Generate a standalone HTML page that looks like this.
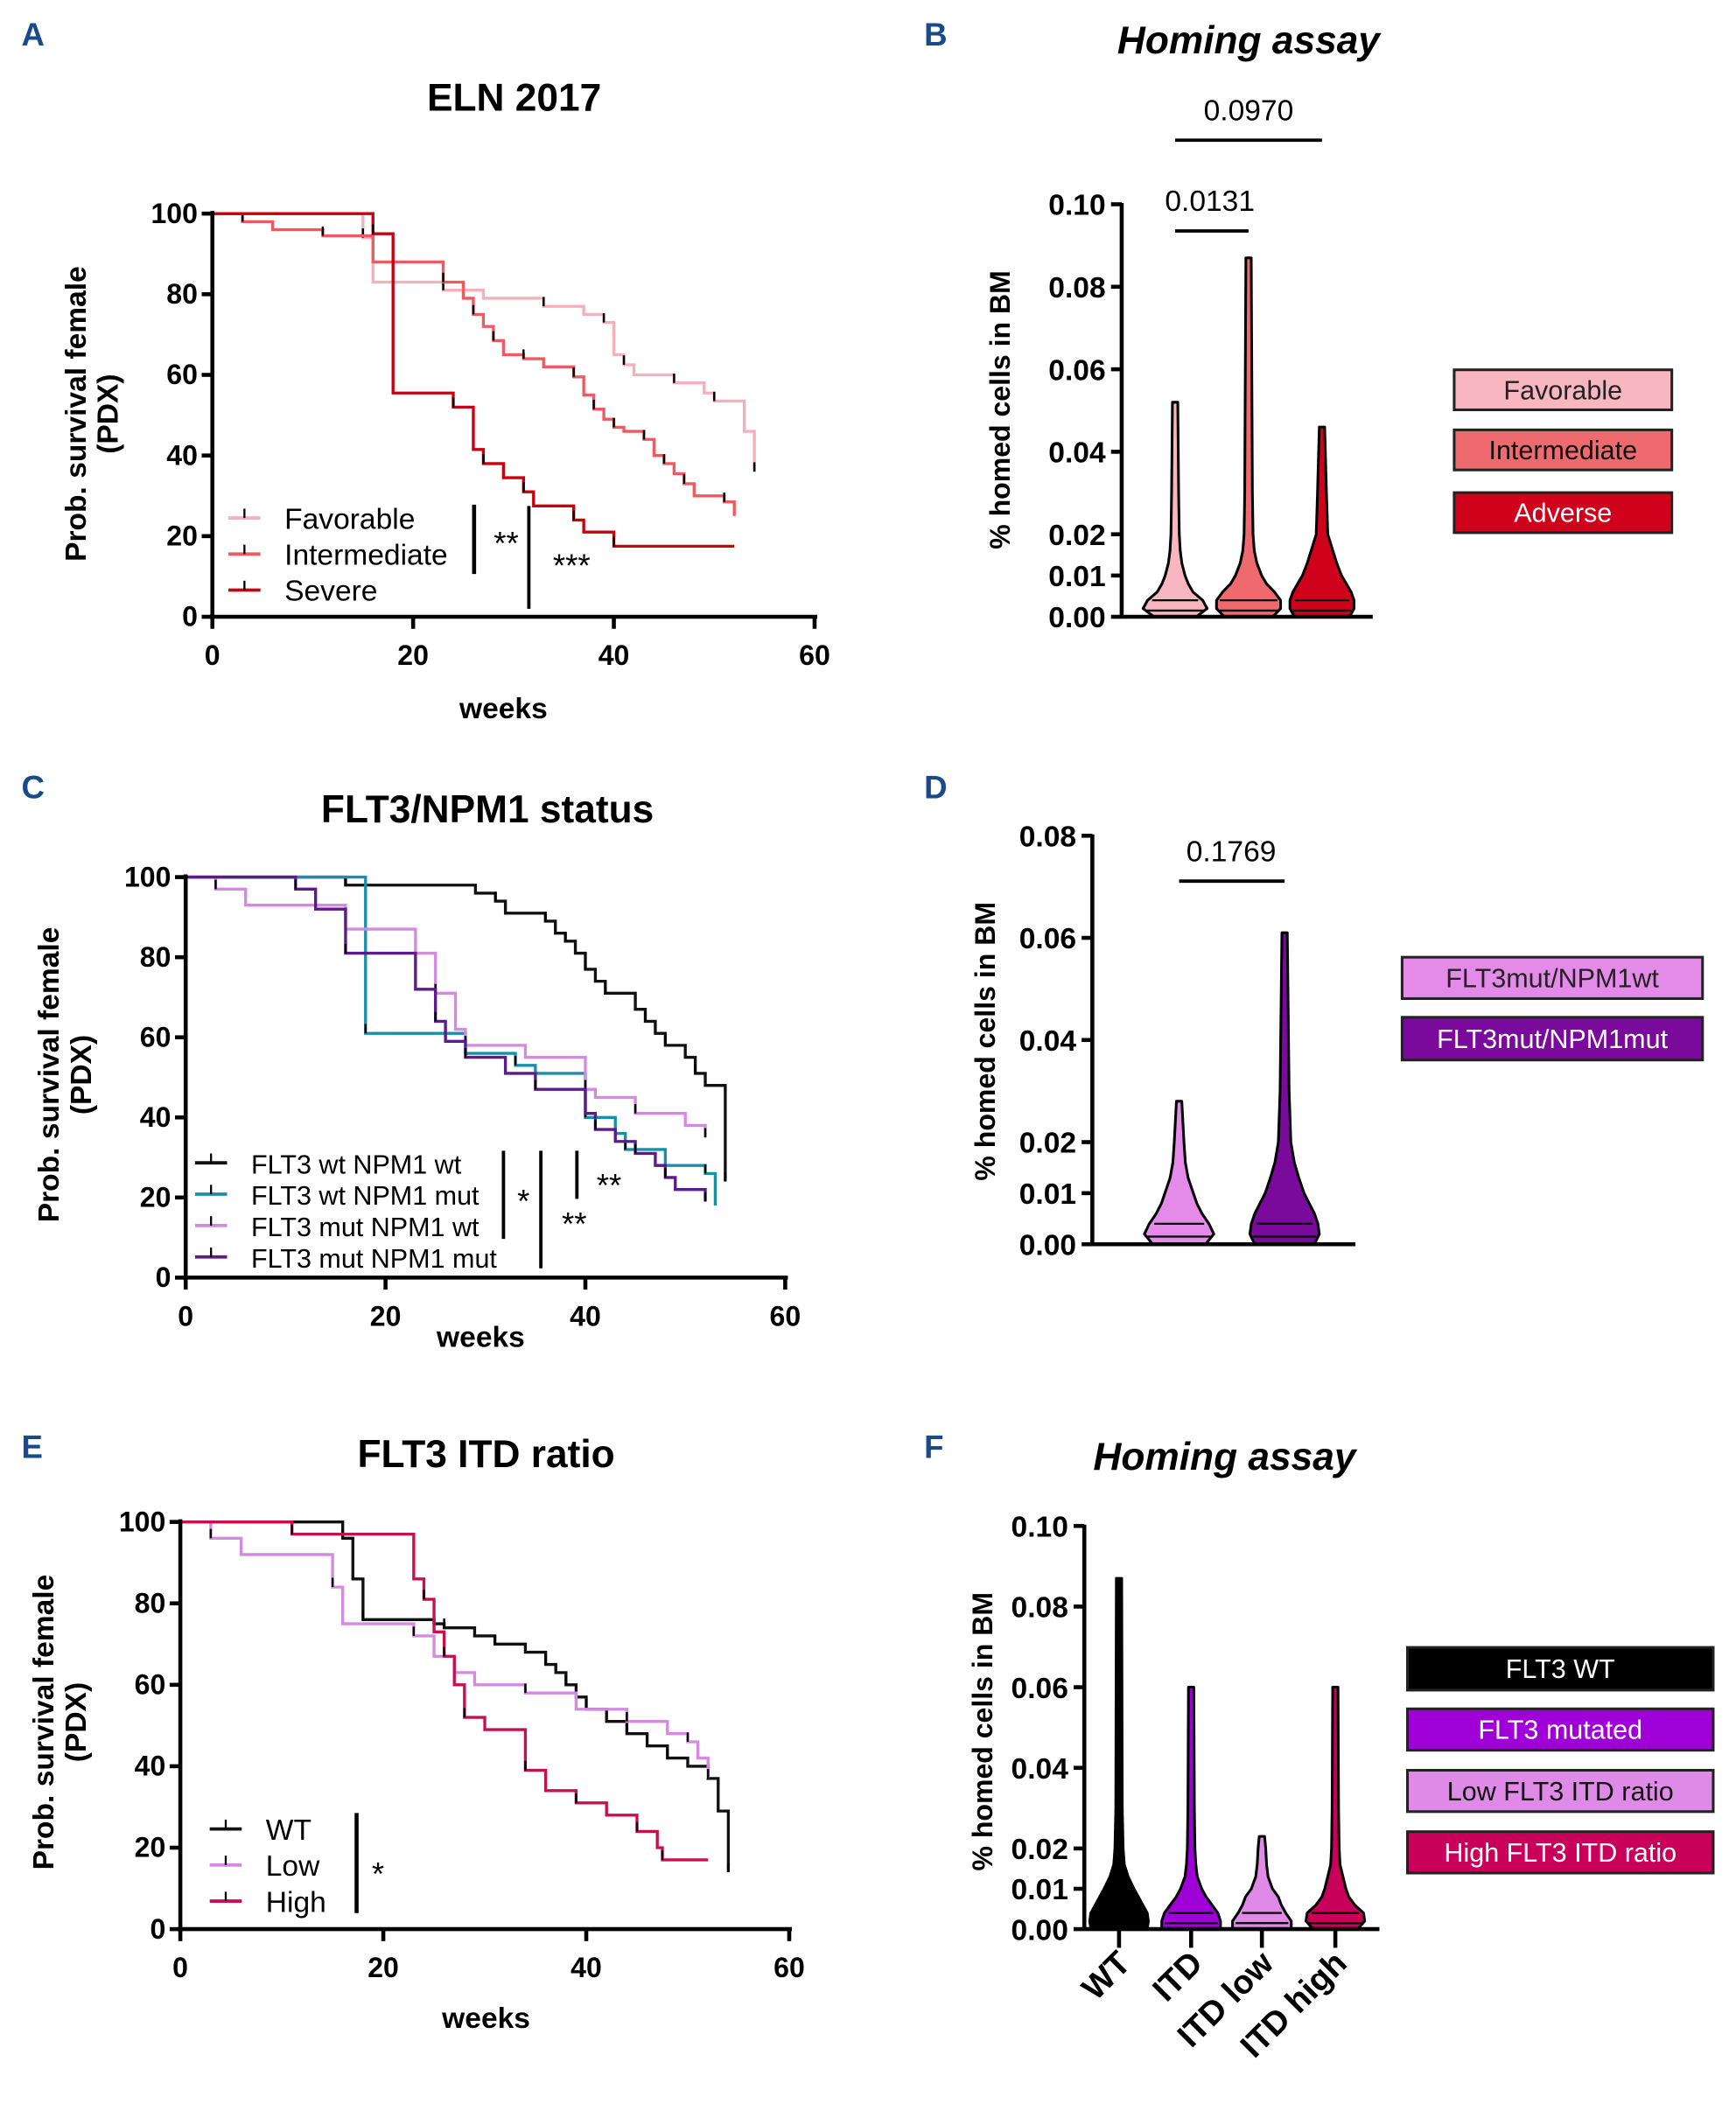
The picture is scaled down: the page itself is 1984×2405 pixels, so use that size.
<!DOCTYPE html>
<html><head><meta charset="utf-8">
<style>
html,body{margin:0;padding:0;background:#fff;}
svg{display:block;font-family:"Liberation Sans",Arial,sans-serif;}
</style></head>
<body>
<svg id="fig" width="1984" height="2405" viewBox="0 0 1300 1576" xmlns="http://www.w3.org/2000/svg">
<g id="root"></g>
</svg>
<script>
// ---------- DATA ----------
const xTicksKM = [0, 20, 40, 60];
const yTicksKM = [0, 20, 40, 60, 80, 100];

// Panel A
const aFavT = [15, 16, 23, 27, 33, 37, 39, 40, 41, 42, 46, 49, 50, 53, 54];
const aFavS = [94, 83, 81, 79, 77, 75, 73, 65, 62.5, 60, 58, 55.5, 53.5, 46, 36];
const aFavEnd = 54;
const aIntT = [3, 6, 11, 16, 23, 25, 26, 27, 28, 29, 31, 33, 36, 37, 38, 39, 40, 41, 43, 44, 45, 46, 47, 48, 51, 52];
const aIntS = [98, 96, 94.5, 88, 83, 79, 75, 72, 68.5, 65, 64, 62, 59.5, 55, 51.5, 49, 47, 46, 44, 40, 38, 35.5, 33, 30, 28.5, 25];
const aIntEnd = 52;
const aSevT = [16, 18, 24, 26, 27, 29, 31, 32, 36, 37, 40];
const aSevS = [95, 55.5, 52, 41.5, 38, 34.5, 31, 27.5, 24, 21, 17.5];
const aSevEnd = 52;

// Panel C
const cWwT = [16, 29, 31, 32, 36, 37, 38, 39, 40, 41, 42, 45, 46, 47, 48, 50, 51, 52, 54];
const cWwS = [98, 96, 94, 91, 89, 86, 84, 81, 77, 74, 71, 67, 64, 61, 58, 55, 51, 48, 24];
const cWmT = [18, 28, 33, 35, 40, 43, 44, 48, 52, 53];
const cWmS = [61, 56, 53, 51, 40, 36, 32, 28, 26, 18];
const cMwT = [3, 6, 16, 23, 25, 27, 28, 34, 40, 41, 45, 50, 52];
const cMwS = [97, 93, 87, 81, 71, 62, 58, 55, 47, 45, 41, 38, 35];
const cMmT = [11, 13, 16, 23, 25, 26, 28, 32, 35, 40, 41, 43, 45, 47, 48, 49, 52];
const cMmS = [97, 92, 81, 72, 64, 59, 55, 51, 47, 41, 37, 34, 31, 28, 25, 22, 19];

// Panel E
const eWtT = [16, 17, 18, 25, 26, 29, 31, 34, 36, 37, 38, 39, 40, 42, 44, 46, 48, 50, 52, 53, 54];
const eWtS = [96, 86, 76, 75, 74, 72, 70, 68, 65, 63, 60, 57, 54, 51, 48, 45, 42, 40, 37, 29, 14];
const eLowT = [3, 6, 15, 16, 23, 25, 27, 29, 34, 39, 44, 48, 50, 51, 52];
const eLowS = [96, 92, 84, 75, 72, 67, 63, 60, 58, 54, 51, 48, 46, 42, 37];
const eHighT = [11, 23, 24, 25, 26, 27, 28, 30, 34, 36, 39, 42, 45, 47, 47.5];
const eHighS = [97, 86, 81, 73, 67, 60, 52, 49, 39, 34, 31, 28, 24, 20, 17];

// Violins: density profile levels (value) and relative widths
const vLevels = [0, 0.002, 0.004, 0.006, 0.008, 0.010, 0.013, 0.016, 0.02, 0.03];
const bFavW = [0.6, 1.0, 0.8, 0.5, 0.35, 0.25, 0.15, 0.1, 0.07, 0.05];
const bIntW = [0.7, 1.0, 1.0, 0.75, 0.5, 0.35, 0.2, 0.12, 0.08, 0.06];
const bAdvW = [0.8, 1.0, 0.95, 0.85, 0.7, 0.55, 0.4, 0.28, 0.12, 0.08];
const bMax = [0.052, 0.087, 0.046];
const bCats = ["Favorable", "Intermediate", "Adverse"];
const bYTicks = [0, 0.01, 0.02, 0.04, 0.06, 0.08, 0.10];

const dMwW = [0.7, 1.0, 0.8, 0.6, 0.45, 0.35, 0.2, 0.12, 0.08, 0.05];
const dMmW = [0.8, 1.0, 0.9, 0.8, 0.65, 0.5, 0.35, 0.22, 0.12, 0.07];
const dMax = [0.028, 0.061];
const dYTicks = [0, 0.01, 0.02, 0.04, 0.06, 0.08];

const fWtW = [0.9, 1.0, 0.9, 0.75, 0.6, 0.45, 0.25, 0.12, 0.08, 0.05];
const fItdW = [1.0, 1.0, 0.85, 0.65, 0.45, 0.3, 0.15, 0.1, 0.07, 0.05];
const fLowW = [1.0, 1.0, 0.75, 0.6, 0.5, 0.3, 0.15, 0.1, 0.07, 0.05];
const fHighW = [0.7, 1.0, 0.9, 0.6, 0.4, 0.3, 0.2, 0.1, 0.07, 0.05];
const fMax = [0.087, 0.060, 0.023, 0.060];
const fCats = ["WT", "ITD", "ITD low", "ITD high"];
const fYTicks = [0, 0.01, 0.02, 0.04, 0.06, 0.08, 0.10];

// ---------- HELPERS ----------
const NS = "http://www.w3.org/2000/svg";
const root = document.getElementById("root");
function mk(tag, attrs, parent, txt) {
  const e = document.createElementNS(NS, tag);
  for (const k in attrs) e.setAttribute(k, attrs[k]);
  if (txt !== undefined) e.textContent = txt;
  (parent || root).appendChild(e);
  return e;
}
function text(x, y, s, size, opts, parent) {
  const o = Object.assign({x: x, y: y, "font-size": size, fill: "#000", "text-anchor": "middle"}, opts || {});
  const t = mk("text", o, parent, s);
  
  
  return t;
}
function lin(d0, d1, r0, r1) { return v => r0 + (v - d0) * (r1 - r0) / (d1 - d0); }

function kmAxes(g, X, Y, x0, x1, y0, y1) {
  mk("line", {x1: x0, y1: y1 - 2, x2: x0, y2: y0 + 2, stroke: "#000", "stroke-width": 3}, g);
  mk("line", {x1: x0 - 2, y1: y0, x2: x1 + 2, y2: y0, stroke: "#000", "stroke-width": 3}, g);
  yTicksKM.forEach(v => {
    mk("line", {x1: x0 - 8, y1: Y(v), x2: x0, y2: Y(v), stroke: "#000", "stroke-width": 3}, g);
    text(x0 - 11, Y(v) + 7, v, 21, {"text-anchor": "end", "font-weight": "bold"}, g);
  });
  xTicksKM.forEach(v => {
    mk("line", {x1: X(v), y1: y0, x2: X(v), y2: y0 + 9, stroke: "#000", "stroke-width": 3}, g);
    text(X(v), y0 + 36, v, 21, {"font-weight": "bold"}, g);
  });
}
function stepPath(g, X, Y, T, S, end, color, name) {
  let d = "M" + X(0) + "," + Y(100);
  for (let i = 0; i < T.length; i++) d += "H" + X(T[i]) + "V" + Y(S[i]);
  d += "H" + X(end);
  const p = mk("path", {d: d, fill: "none", stroke: color, "stroke-width": 2.2}, g);
  
  
  for (let i = 0; i < T.length; i += 2) {
    const c = mk("line", {x1: X(T[i]) , y1: Y(S[i]), x2: X(T[i]), y2: Y(S[i]) - 7, stroke: "#000", "stroke-width": 1.6}, g);
    
    
  }
}
function kmLegend(g, x, y, items, gap, size) {
  items.forEach((it, i) => {
    const yy = y + i * gap;
    mk("line", {x1: x, y1: yy, x2: x + 24, y2: yy, stroke: it[1], "stroke-width": 2.5}, g);
    mk("line", {x1: x + 12, y1: yy, x2: x + 12, y2: yy - 7, stroke: "#000", "stroke-width": 1.5}, g);
    const t = text(x + 42, yy + 8, it[0], size || 22, {"text-anchor": "start"}, g);
    
  });
}
function violin(g, xc, Y, W, max, halfW, fill, name) {
  let right = [];
  for (let i = 0; i < vLevels.length; i++) {
    if (vLevels[i] > max) break;
    right.push([xc + Math.min(W[i] + 0.06, 1) * halfW, Y(vLevels[i])]);
  }
  right.push([xc + 2, Y(max)]);
  let d = "M" + xc + "," + Y(0);
  right.forEach(p => d += "L" + p[0] + "," + p[1]);
  for (let i = right.length - 1; i >= 0; i--) d += "L" + (2 * xc - right[i][0]) + "," + right[i][1];
  d += "Z";
  const p = mk("path", {d: d, fill: fill, stroke: "#000", "stroke-width": 2, "stroke-linejoin": "round"}, g);
  
  
  [0.0015, 0.004].forEach((v, k) => {
    const ww = W[k + 1] * halfW * 0.9;
    mk("line", {x1: xc - ww, y1: Y(v), x2: xc + ww, y2: Y(v), stroke: "#000", "stroke-width": 1.5}, g);
  });
}
function violinAxes(g, Y, ticks, x0, x1) {
  mk("line", {x1: x0, y1: Y(ticks[ticks.length - 1]) - 1, x2: x0, y2: Y(0) + 1, stroke: "#000", "stroke-width": 3}, g);
  mk("line", {x1: x0, y1: Y(0), x2: x1, y2: Y(0), stroke: "#000", "stroke-width": 3}, g);
  ticks.forEach(v => {
    mk("line", {x1: x0 - 8, y1: Y(v), x2: x0, y2: Y(v), stroke: "#000", "stroke-width": 3}, g);
    text(x0 - 12, Y(v) + 8, v.toFixed(2), 22, {"text-anchor": "end", "font-weight": "bold"}, g);
  });
}
function legendBox(g, x, y, w, h, fill, label, tc, name) {
  const r = mk("rect", {x: x, y: y, width: w, height: h, fill: fill, stroke: "#222", "stroke-width": 2}, g);
  
  
  text(x + w / 2, y + h / 2 + 7, label, 20, {fill: tc}, g);
}
function panelLetter(x, y, s) {
  const t = text(x, y, s, 24, {"font-weight": "bold", fill: "#1a4a8a", "text-anchor": "start"});
  
}
function yTitle(g, x, y, lines, size) {
  lines.forEach((l, i) => {
    const t = text(0, 0, l, size, {"font-weight": "bold", transform: "translate(" + (x + i * size * 1.1) + "," + y + ") rotate(-90)"}, g);
    
  });
}

// ---------- PANEL A ----------
panelLetter(16, 34, "A");
{
  const g = mk("g", { });
  const X = lin(0, 60, 159, 610), Y = lin(0, 100, 462, 160);
  text(385, 83, "ELN 2017", 29, {"font-weight": "bold"}, g);
  stepPath(g, X, Y, aFavT, aFavS, aFavEnd, "#f7b0bb", "favorable-curve");
  stepPath(g, X, Y, aIntT, aIntS, aIntEnd, "#ee5a60", "intermediate-curve");
  stepPath(g, X, Y, aSevT, aSevS, aSevEnd, "#c8000f", "severe-curve");
  kmAxes(g, X, Y, 159, 610, 462, 160);
  yTitle(g, 64, 310, ["Prob. survival female", "(PDX)"], 22);
  text(377, 538, "weeks", 22, {"font-weight": "bold"}, g);
  kmLegend(g, 171, 388, [["Favorable", "#f7b0bb"], ["Intermediate", "#ee5a60"], ["Severe", "#c8000f"]], 27);
  mk("line", {x1: 355, y1: 378, x2: 355, y2: 430, stroke: "#000", "stroke-width": 3}, g);
  text(379, 415, "**", 24, {}, g);
  mk("line", {x1: 396, y1: 379, x2: 396, y2: 456, stroke: "#000", "stroke-width": 2.5}, g);
  text(428, 432, "***", 24, {}, g);
}
// ---------- PANEL B ----------
panelLetter(692, 34, "B");
{
  const g = mk("g", { });
  const Y = lin(0, 0.10, 462, 153);
  text(935, 40, "Homing assay", 29, {"font-weight": "bold", "font-style": "italic"}, g);
  const xs = [880, 935, 990], cols = ["#f7b6c0", "#ee6a6e", "#d0021b"], Ws = [bFavW, bIntW, bAdvW];
  xs.forEach((xc, i) => violin(g, xc, Y, Ws[i], bMax[i], 24, cols[i], "violin-" + bCats[i].toLowerCase()));
  violinAxes(g, Y, bYTicks, 840, 1028);
  yTitle(g, 756, 307, ["% homed cells in BM"], 21);
  mk("line", {x1: 880, y1: 173, x2: 935, y2: 173, stroke: "#000", "stroke-width": 2.5}, g);
  text(906, 158, "0.0131", 22, {}, g);
  mk("line", {x1: 880, y1: 105, x2: 990, y2: 105, stroke: "#000", "stroke-width": 2.5}, g);
  text(935, 90, "0.0970", 22, {}, g);
  legendBox(g, 1089, 277, 163, 30, "#f7b6c0", "Favorable", "#222", "legend-favorable");
  legendBox(g, 1089, 322, 163, 30, "#ee6a6e", "Intermediate", "#111", "legend-intermediate");
  legendBox(g, 1089, 369, 163, 30, "#d0021b", "Adverse", "#fff", "legend-adverse");
}
// ---------- PANEL C ----------
panelLetter(16, 598, "C");
{
  const g = mk("g", { });
  const X = lin(0, 60, 139, 588), Y = lin(0, 100, 957, 657);
  text(365, 616, "FLT3/NPM1 status", 29, {"font-weight": "bold"}, g);
  stepPath(g, X, Y, cWwT, cWwS, 54, "#111", "flt3wt-npm1wt-curve");
  stepPath(g, X, Y, cWmT, cWmS, 53, "#1a8fa8", "flt3wt-npm1mut-curve");
  stepPath(g, X, Y, cMwT, cMwS, 52, "#d48ae0", "flt3mut-npm1wt-curve");
  stepPath(g, X, Y, cMmT, cMmS, 52, "#5c1a8c", "flt3mut-npm1mut-curve");
  kmAxes(g, X, Y, 139, 588, 957, 657);
  yTitle(g, 44, 805, ["Prob. survival female", "(PDX)"], 22);
  text(360, 1009, "weeks", 22, {"font-weight": "bold"}, g);
  kmLegend(g, 146, 871, [["FLT3 wt NPM1 wt", "#111"], ["FLT3 wt NPM1 mut", "#1a8fa8"], ["FLT3 mut NPM1 wt", "#d48ae0"], ["FLT3 mut NPM1 mut", "#5c1a8c"]], 23.5, 20);
  mk("line", {x1: 377, y1: 862, x2: 377, y2: 928, stroke: "#000", "stroke-width": 2.5}, g);
  text(392, 908, "*", 24, {}, g);
  mk("line", {x1: 405, y1: 862, x2: 405, y2: 950, stroke: "#000", "stroke-width": 2.5}, g);
  text(430, 925, "**", 24, {}, g);
  mk("line", {x1: 432, y1: 862, x2: 432, y2: 898, stroke: "#000", "stroke-width": 2.5}, g);
  text(456, 896, "**", 24, {}, g);
}
// ---------- PANEL D ----------
panelLetter(692, 598, "D");
{
  const g = mk("g", { });
  const Y = lin(0, 0.08, 932, 626);
  const xs = [883, 962], cols = ["#e48ae8", "#7a0a9c"], Ws = [dMwW, dMmW];
  xs.forEach((xc, i) => violin(g, xc, Y, Ws[i], dMax[i], 26, cols[i], "violin-" + i));
  violinAxes(g, Y, dYTicks, 818, 1015);
  yTitle(g, 745, 780, ["% homed cells in BM"], 21);
  mk("line", {x1: 883, y1: 660, x2: 962, y2: 660, stroke: "#000", "stroke-width": 2.5}, g);
  text(922, 645, "0.1769", 22, {}, g);
  legendBox(g, 1050, 717, 225, 31, "#e48ae8", "FLT3mut/NPM1wt", "#222", "legend-flt3mut-npm1wt");
  legendBox(g, 1050, 762, 225, 32, "#7a0a9c", "FLT3mut/NPM1mut", "#fff", "legend-flt3mut-npm1mut");
}
// ---------- PANEL E ----------
panelLetter(16, 1092, "E");
{
  const g = mk("g", { });
  const X = lin(0, 60, 135, 591), Y = lin(0, 100, 1445, 1140);
  text(364, 1099, "FLT3 ITD ratio", 29, {"font-weight": "bold"}, g);
  stepPath(g, X, Y, eWtT, eWtS, 54, "#111", "wt-curve");
  stepPath(g, X, Y, eLowT, eLowS, 52, "#d48ae0", "low-curve");
  stepPath(g, X, Y, eHighT, eHighS, 52, "#c8104f", "high-curve");
  kmAxes(g, X, Y, 135, 591, 1445, 1140);
  yTitle(g, 40, 1290, ["Prob. survival female", "(PDX)"], 22);
  text(364, 1519, "weeks", 22, {"font-weight": "bold"}, g);
  kmLegend(g, 157, 1370, [["WT", "#111"], ["Low", "#d48ae0"], ["High", "#c8104f"]], 27);
  mk("line", {x1: 267, y1: 1358, x2: 267, y2: 1433, stroke: "#000", "stroke-width": 3}, g);
  text(283, 1412, "*", 24, {}, g);
}
// ---------- PANEL F ----------
panelLetter(692, 1092, "F");
{
  const g = mk("g", { });
  const Y = lin(0, 0.10, 1445, 1143);
  text(917, 1101, "Homing assay", 29, {"font-weight": "bold", "font-style": "italic"}, g);
  const xs = [838, 892, 945, 1000], cols = ["#000", "#a000d8", "#e08ae8", "#c8005a"], Ws = [fWtW, fItdW, fLowW, fHighW];
  xs.forEach((xc, i) => violin(g, xc, Y, Ws[i], fMax[i], 22, cols[i], "violin-" + fCats[i].toLowerCase().replace(" ", "-")));
  violinAxes(g, Y, fYTicks, 812, 1033);
  xs.forEach((xc, i) => {
    mk("line", {x1: xc, y1: 1445, x2: xc, y2: 1459, stroke: "#000", "stroke-width": 3}, g);
    const t = text(0, 0, fCats[i], 25, {"font-weight": "bold", "text-anchor": "end", transform: "translate(" + (xc + 10) + "," + 1472 + ") rotate(-45)"}, g);
    
  });
  yTitle(g, 743, 1297, ["% homed cells in BM"], 21);
  legendBox(g, 1054, 1234, 229, 32, "#000", "FLT3 WT", "#fff", "legend-flt3-wt");
  legendBox(g, 1054, 1280, 229, 31, "#a000d8", "FLT3 mutated", "#fff", "legend-flt3-mutated");
  legendBox(g, 1054, 1326, 229, 31, "#e08ae8", "Low FLT3 ITD ratio", "#111", "legend-low-itd");
  legendBox(g, 1054, 1372, 229, 31, "#c8005a", "High FLT3 ITD ratio", "#fff", "legend-high-itd");
}
</script>
</body></html>
